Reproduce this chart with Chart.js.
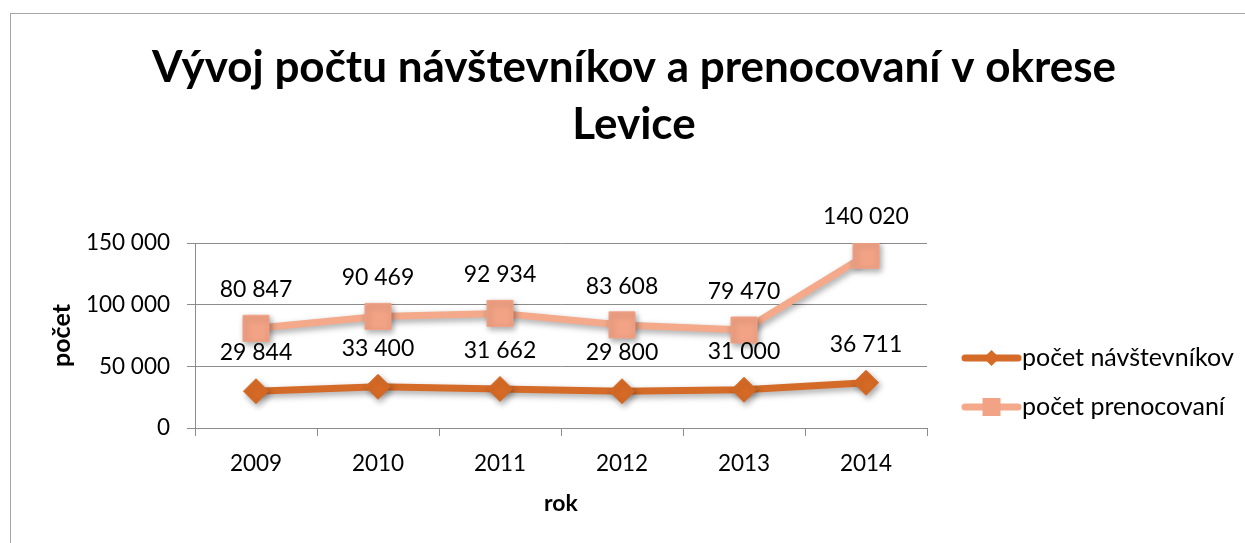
<!DOCTYPE html>
<html>
<head>
<meta charset="utf-8">
<script src="https://cdn.jsdelivr.net/npm/chart.js@4.4.1/dist/chart.umd.min.js"></script>
<style>
  html, body { margin: 0; padding: 0; background: #fff; overflow: hidden; }
  #wrap { position: relative; width: 1245px; height: 543px; }
  #frame { position: absolute; left: 10px; top: 13px; width: 1400px; height: 700px; border: 1px solid #a6a6a6; pointer-events: none; }
  canvas { position: absolute; left: 0; top: 0; }
</style>
</head>
<body>
<div id="wrap">
  <canvas id="c" width="1245" height="543"></canvas>
  <div id="frame"></div>
</div>
<script>
const categories = ['2009', '2010', '2011', '2012', '2013', '2014'];
const navstevnikov = [29844, 33400, 31662, 29800, 31000, 36711];
const prenocovani = [80847, 90469, 92934, 83608, 79470, 140020];
const seriesNames = ['počet návštevníkov', 'počet prenocovaní'];
const yTicks = [0, 50000, 100000, 150000];

const FONT = 'Lato, "Open Sans", sans-serif';
const fmt = v => String(v).replace(/\B(?=(\d{3})+(?!\d))/g, ' ');

const shadowPlugin = {
  id: 'shadow',
  beforeDatasetDraw(chart) {
    const ctx = chart.ctx;
    ctx.save();
    ctx.shadowColor = 'rgba(0,0,0,0.35)';
    ctx.shadowBlur = 6;
    ctx.shadowOffsetX = 2;
    ctx.shadowOffsetY = 3;
  },
  afterDatasetDraw(chart) { chart.ctx.restore(); }
};

const labelPlugin = {
  id: 'valueLabels',
  afterDatasetsDraw(chart) {
    const ctx = chart.ctx;
    ctx.save();
    ctx.font = '23px ' + FONT;
    ctx.fillStyle = '#000';
    ctx.textAlign = 'center';
    ctx.textBaseline = 'middle';
    chart.data.datasets.forEach((ds, i) => {
      const meta = chart.getDatasetMeta(i);
      meta.data.forEach((pt, j) => {
        ctx.fillText(fmt(ds.data[j]), pt.x, pt.y - 38.5);
      });
    });
    ctx.restore();
  }
};

const legendPlugin = {
  id: 'sideLegend',
  afterDraw(chart) {
    const ctx = chart.ctx;
    const x0 = chart.chartArea.right + 35;
    const rows = [358, 407];
    chart.data.datasets.forEach((ds, i) => {
      const y = rows[i];
      ctx.save();
      ctx.strokeStyle = ds.borderColor;
      ctx.lineWidth = 7;
      ctx.lineCap = 'round';
      ctx.beginPath();
      ctx.moveTo(x0 + 3, y);
      ctx.lineTo(x0 + 56, y);
      ctx.stroke();
      ctx.fillStyle = ds.pointBackgroundColor;
      const cx = x0 + 29.5;
      ctx.beginPath();
      if (ds.pointStyle === 'rectRot') {
        ctx.moveTo(cx - 8, y); ctx.lineTo(cx, y - 8); ctx.lineTo(cx + 8, y); ctx.lineTo(cx, y + 8);
      } else {
        ctx.rect(cx - 9, y - 9, 18, 18);
      }
      ctx.closePath();
      ctx.fill();
      ctx.fillStyle = '#000';
      ctx.font = '25px ' + FONT;
      ctx.textAlign = 'left';
      ctx.textBaseline = 'middle';
      ctx.fillText(seriesNames[i], x0 + 60, y);
      ctx.restore();
    });
  }
};

new Chart(document.getElementById('c'), {
  type: 'line',
  data: {
    labels: categories,
    datasets: [
      {
        label: seriesNames[0],
        data: navstevnikov,
        borderColor: '#d46b28',
        backgroundColor: '#d46b28',
        pointBackgroundColor: '#d66a26',
        pointBorderColor: '#d66a26',
        borderWidth: 7,
        pointStyle: 'rectRot',
        pointRadius: 12.5,
        pointBorderWidth: 1,
        tension: 0
      },
      {
        label: seriesNames[1],
        data: prenocovani,
        borderColor: '#f4a98b',
        backgroundColor: '#f4a98b',
        pointBackgroundColor: '#f2a285',
        pointBorderColor: '#f2a285',
        borderWidth: 7,
        pointStyle: 'rect',
        pointRadius: 18.4,
        pointBorderWidth: 1,
        tension: 0
      }
    ]
  },
  options: {
    responsive: false,
    animation: false,
    events: [],
    layout: { padding: { left: 23, right: 0, top: 0, bottom: 0 } },
    plugins: {
      legend: { display: false },
      tooltip: { enabled: false },
      title: {
        display: true,
        text: ['Vývoj počtu návštevníkov a prenocovaní v okrese', 'Levice'],
        color: '#000',
        font: { family: FONT, size: 44, weight: 'bold', lineHeight: 1.3 },
        padding: { top: 39.4, bottom: 89.2 }
      }
    },
    scales: {
      x: {
        type: 'category',
        offset: true,
        grid: { offset: true, drawOnChartArea: false, drawTicks: true, tickLength: 8, color: '#8c8c8c', lineWidth: 1 },
        border: { display: true, color: '#8c8c8c', width: 1 },
        ticks: { color: '#000', font: { family: FONT, size: 22.5 }, padding: 14, maxRotation: 0 },
        title: { display: true, text: 'rok', color: '#000', font: { family: FONT, size: 23, weight: 'bold' }, padding: { top: 0, bottom: 26 } },
        afterFit(s) { s.height = 115; }
      },
      y: {
        type: 'linear',
        position: 'left',
        min: 0,
        max: 150000,
        afterBuildTicks(s) { s.ticks = yTicks.map(v => ({ value: v })); },
        grid: { drawTicks: true, tickLength: 8, color: '#8c8c8c', lineWidth: 1 },
        border: { display: true, color: '#8c8c8c', width: 1 },
        ticks: { color: '#000', font: { family: FONT, size: 22.5 }, padding: 17, callback: v => fmt(v) },
        title: { display: true, text: 'počet', color: '#000', font: { family: FONT, size: 25, weight: 'bold' }, padding: { top: 24, bottom: 0 } },
        afterFit(s) { s.width = 172; }
      },
      yR: {
        type: 'linear',
        position: 'right',
        display: true,
        grid: { display: false },
        border: { display: false },
        ticks: { display: false },
        afterFit(s) { s.width = 318; }
      }
    }
  },
  plugins: [shadowPlugin, labelPlugin, legendPlugin]
});
</script>
</body>
</html>
